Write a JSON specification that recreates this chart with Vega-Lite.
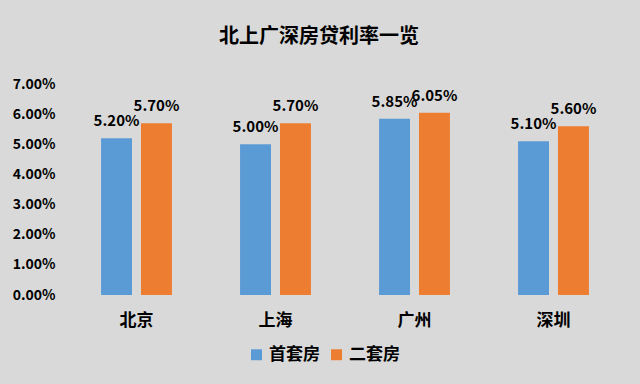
{
  "$schema": "https://vega.github.io/schema/vega-lite/v6.json",
  "autosize": "none",
  "width": 556,
  "height": 211,
  "padding": {"left": 67, "top": 84, "right": 17, "bottom": 89},
  "background": "#d9d9d9",
  "config": {
    "view": {"stroke": null},
    "font": "Noto Sans CJK SC"
  },
  "title": {
    "text": "北上广深房贷利率一览",
    "fontSize": 20,
    "fontWeight": "bold",
    "color": "#000000",
    "anchor": "middle",
    "dx": -26,
    "offset": 30,
    "font": "Noto Sans CJK SC"
  },
  "data": {
    "values": [
      {"city": "北京", "type": "首套房", "rate": 0.052},
      {"city": "北京", "type": "二套房", "rate": 0.057},
      {"city": "上海", "type": "首套房", "rate": 0.050},
      {"city": "上海", "type": "二套房", "rate": 0.057},
      {"city": "广州", "type": "首套房", "rate": 0.0585},
      {"city": "广州", "type": "二套房", "rate": 0.0605},
      {"city": "深圳", "type": "首套房", "rate": 0.051},
      {"city": "深圳", "type": "二套房", "rate": 0.056}
    ]
  },
  "encoding": {
    "x": {
      "field": "city",
      "type": "nominal",
      "sort": ["北京", "上海", "广州", "深圳"],
      "scale": {"paddingInner": 0.49, "paddingOuter": 0.245},
      "axis": {
        "title": null,
        "labelAngle": 0,
        "labelFontSize": 17,
        "labelFontWeight": "bold",
        "labelColor": "#000000",
        "labelPadding": 17,
        "domain": false,
        "ticks": false,
        "labelFont": "Noto Sans CJK SC"
      }
    },
    "xOffset": {
      "field": "type",
      "type": "nominal",
      "sort": ["首套房", "二套房"],
      "scale": {"paddingInner": 0.225}
    },
    "y": {
      "field": "rate",
      "type": "quantitative",
      "scale": {"domain": [0, 0.07], "nice": false},
      "axis": {
        "title": null,
        "format": ".2%",
        "values": [0, 0.01, 0.02, 0.03, 0.04, 0.05, 0.06, 0.07],
        "grid": false,
        "domain": false,
        "ticks": false,
        "labelFontSize": 14,
        "labelFontWeight": "bold",
        "labelColor": "#000000",
        "labelPadding": 12,
        "labelFont": "Noto Sans CJK SC"
      }
    }
  },
  "layer": [
    {
      "mark": {"type": "bar"},
      "encoding": {
        "color": {
          "field": "type",
          "type": "nominal",
          "sort": ["首套房", "二套房"],
          "scale": {"domain": ["首套房", "二套房"], "range": ["#5b9bd5", "#ed7d31"]},
          "legend": {
            "title": null,
            "orient": "none",
            "direction": "horizontal",
            "legendX": 181,
            "legendY": 262,
            "symbolType": "square",
            "symbolSize": 120,
            "symbolStrokeWidth": 0,
            "labelFontSize": 17,
            "labelFontWeight": "bold",
            "labelColor": "#000000",
            "labelFont": "Noto Sans CJK SC",
            "columnPadding": 8,
            "labelOffset": 4
          }
        }
      }
    },
    {
      "mark": {
        "type": "text",
        "baseline": "bottom",
        "dy": -9,
        "fontSize": 15,
        "fontWeight": "bold",
        "color": "#000000",
        "font": "Noto Sans CJK SC"
      },
      "encoding": {
        "text": {"field": "rate", "type": "quantitative", "format": ".2%"}
      }
    }
  ]
}
